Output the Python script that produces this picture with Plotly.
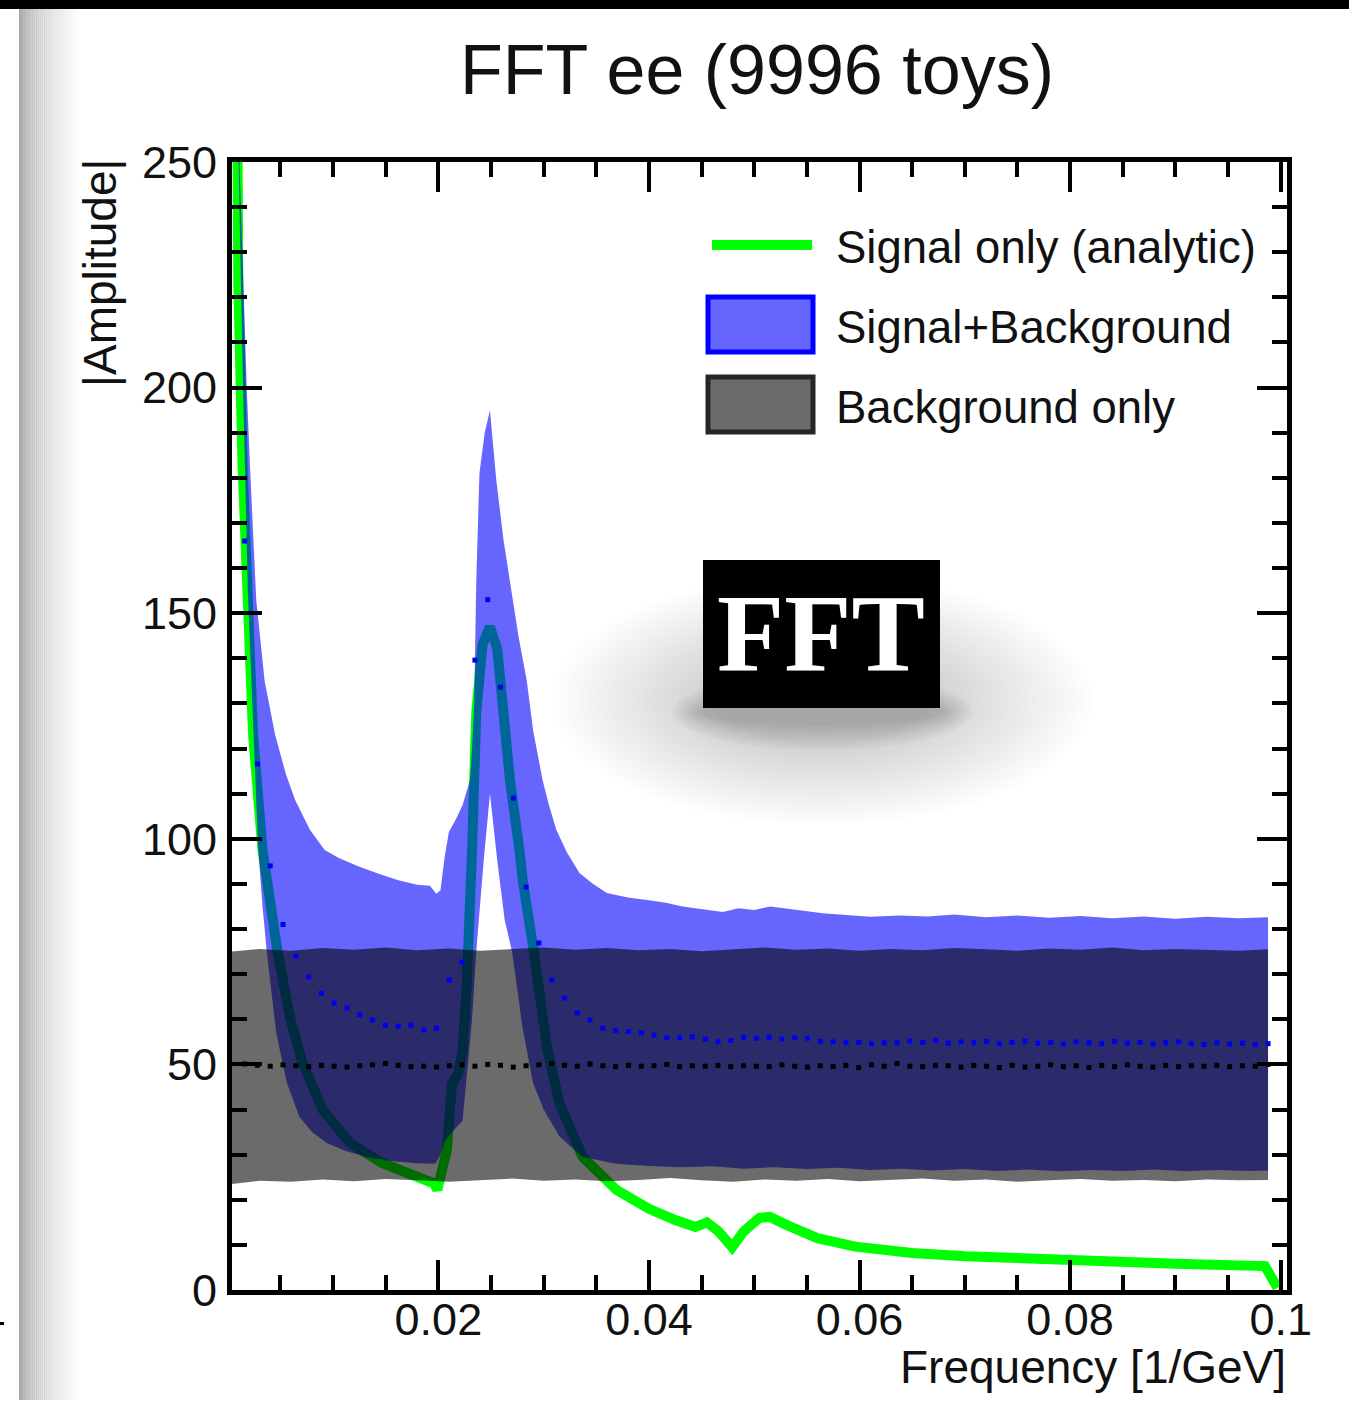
import plotly.graph_objects as go

# ---------------- data ----------------
# Signal only (analytic) curve
sig_x = [0.0009, 0.0010, 0.0014, 0.0019, 0.0024, 0.0033, 0.0047, 0.0059, 0.0071, 0.0090,
         0.0116, 0.0147, 0.0179, 0.0196, 0.0199, 0.0208, 0.0213, 0.0219, 0.0223, 0.0227,
         0.0232, 0.0236, 0.0242, 0.0249, 0.0256, 0.0261, 0.0268, 0.0277, 0.0280, 0.0290,
         0.0303, 0.0315, 0.0337, 0.0369, 0.0400, 0.0425, 0.0444, 0.0455, 0.0466, 0.0479,
         0.0490, 0.0505, 0.0515, 0.0530, 0.0560, 0.0596, 0.0650, 0.0700, 0.0800, 0.0900,
         0.0985, 0.0997]
sig_y = [262, 223, 183, 153, 123, 97.5, 75.4, 60.5, 50.3, 40.0,
         32.6, 28.1, 25.0, 23.6, 22.2, 31.0, 45.8, 48.0, 53.0, 68.0,
         97.5, 128, 143, 147, 142, 128, 113, 97.5, 91.0, 76.0,
         54.0, 41.4, 29.5, 22.2, 18.0, 15.5, 14.0, 15.0, 13.0, 9.5,
         13.0, 16.0, 16.2, 14.5, 11.5, 9.6, 8.2, 7.5, 6.5, 5.8,
         5.3, 0.5]

# Signal+Background band (upper / lower edge)
sbu_x = [0.0009, 0.0011, 0.0015, 0.0018, 0.0021, 0.0027, 0.0035, 0.0045, 0.0055, 0.0064,
         0.0078, 0.0092, 0.0106, 0.0125, 0.0144, 0.0162, 0.0180, 0.0192, 0.0198, 0.0202,
         0.0206, 0.0210, 0.0217, 0.0223, 0.0230, 0.0232, 0.0234, 0.0236, 0.0239, 0.0244,
         0.0249, 0.0252, 0.0255, 0.0262, 0.0268, 0.0276, 0.0284, 0.0290, 0.0299, 0.0305,
         0.0312, 0.0322, 0.0334, 0.0347, 0.0360, 0.0380, 0.0400, 0.0416, 0.0432, 0.0450,
         0.0470, 0.0485, 0.0500, 0.0515, 0.0527, 0.0545, 0.0565, 0.0585, 0.0610, 0.0638,
         0.0665, 0.0690, 0.0720, 0.0750, 0.0780, 0.0810, 0.0840, 0.0870, 0.0900, 0.0930,
         0.0960, 0.0988]
sbu_y = [265, 250, 222, 200, 183, 153, 135, 123, 114.5, 108.6,
         102, 97.5, 95.7, 93.8, 92.2, 90.8, 89.8, 89.6, 87.8, 88.6,
         96, 101.5, 104.5, 107.5, 113, 120, 130, 157, 181, 190,
         195, 188, 179.5, 166, 157, 145, 135, 124, 113, 107.5,
         102, 97, 92.4, 90, 88, 87, 86.4, 85.8, 85.0, 84.5,
         83.8, 84.6, 84.2, 85.0, 84.7, 84.1, 83.5, 83.2, 82.7, 83.0,
         82.8, 83.2, 82.6, 83.0, 82.5, 82.9, 82.4, 82.8, 82.3, 82.7,
         82.4, 82.6]
sbl_x = [0.0009, 0.0011, 0.0014, 0.0019, 0.0025, 0.0029, 0.0033, 0.0037, 0.0046, 0.0056,
         0.0068, 0.0080, 0.0094, 0.0112, 0.0132, 0.0155, 0.0179, 0.0197, 0.0202, 0.0206,
         0.0215, 0.0223, 0.0227, 0.0232, 0.0236, 0.0243, 0.0249, 0.0256, 0.0263, 0.0270,
         0.0280, 0.0290, 0.0300, 0.0315, 0.0337, 0.0369, 0.0400, 0.0430, 0.0460, 0.0490,
         0.0520, 0.0550, 0.0580, 0.0610, 0.0640, 0.0670, 0.0700, 0.0730, 0.0760, 0.0790,
         0.0820, 0.0850, 0.0880, 0.0910, 0.0940, 0.0970, 0.0988]
sbl_y = [265, 245, 205, 155, 120, 97.5, 85, 75, 57, 46,
         38.4, 35, 32.6, 30.8, 29.5, 28.6, 28.1, 28.0, 30.0, 33.0,
         35.5, 37.5, 46.5, 60, 75, 95, 110, 95, 82, 75,
         58, 45.8, 40, 34, 29.5, 28.0, 27.5, 27.2, 27.4, 26.9,
         27.2, 26.8, 27.1, 26.6, 26.9, 26.5, 26.8, 26.4, 26.7, 26.3,
         26.6, 26.4, 26.7, 26.3, 26.6, 26.4, 26.5]

# Background only band
bg_x = [0.0004, 0.0030, 0.0060, 0.0090, 0.0120, 0.0150, 0.0180, 0.0210, 0.0240, 0.0270,
        0.0300, 0.0330, 0.0360, 0.0390, 0.0420, 0.0450, 0.0480, 0.0510, 0.0540, 0.0570,
        0.0600, 0.0630, 0.0660, 0.0690, 0.0720, 0.0750, 0.0780, 0.0810, 0.0840, 0.0870,
        0.0900, 0.0930, 0.0960, 0.0988]
bg_hi = [75.0, 75.6, 75.2, 75.8, 75.4, 75.9, 75.3, 75.7, 75.2, 75.5,
         75.9, 75.4, 75.8, 75.3, 75.6, 75.1, 75.5, 75.9, 75.4, 75.7,
         75.2, 75.6, 75.3, 75.8, 75.5, 75.2, 75.7, 75.4, 75.9, 75.3,
         75.6, 75.4, 75.2, 75.5]
bg_lo = [23.5, 24.2, 24.0, 24.5, 24.1, 24.6, 24.3, 24.0, 24.4, 24.7,
         24.2, 24.5, 24.1, 24.4, 24.8, 24.3, 24.0, 24.5, 24.2, 24.6,
         24.1, 24.4, 24.7, 24.2, 24.5, 24.0, 24.3, 24.6, 24.2, 24.4,
         24.1, 24.5, 24.3, 24.4]

# Mean amplitude per frequency bin (dotted markers)
bin_start, bin_width = 0.0016, 0.001215
sb_mean = [166, 116.6, 94, 81, 74, 69.4, 65.8, 63.6, 62.5, 61,
           59.8, 58.7, 58.5, 58.7, 57.6, 58, 68.7, 72.7, 139.6, 153,
           133.6, 109, 89.3, 76.9, 68.7, 64.7, 61.4, 59.8, 58, 57.5,
           57.3, 57, 56.5, 55.9, 55.9, 56.1, 55.6, 55, 55.3, 56,
           55.8, 56, 55.6, 55.9, 55.8, 55.1, 55, 54.9, 54.9, 54.6,
           54.8, 54.8, 55.2, 54.9, 55.3, 54.7, 55.0, 54.8, 55.1, 54.6,
           54.9, 55.2, 54.7, 54.9, 54.5, 55.0, 54.8, 54.6, 55.1, 54.7,
           54.9, 54.5, 54.8, 55.0, 54.6, 54.4, 54.8, 54.5, 54.7, 54.4,
           54.6]
b_mean = [50.1, 49.8, 49.6, 49.9, 49.7, 49.5, 49.8, 49.6, 49.4, 49.7,
          49.9, 50.2, 49.8, 49.5, 49.6, 49.4, 49.7, 49.9, 49.6, 50.0,
          49.8, 49.4, 49.7, 49.9, 50.2, 49.8, 49.6, 50.1, 49.7, 49.5,
          49.8, 49.6, 49.7, 50.0, 49.5, 49.7, 49.6, 49.8, 49.5, 49.7,
          49.6, 49.5, 49.9, 49.6, 49.4, 49.7, 49.5, 49.8, 49.3, 49.9,
          49.6, 50.2, 49.6, 49.5, 49.8, 49.7, 49.4, 49.8, 49.6, 49.3,
          49.8, 49.4, 49.6, 49.9, 49.5, 49.7, 49.3, 49.8, 49.5, 49.9,
          49.6, 49.4, 49.8, 49.5, 49.7, 49.6, 49.8, 49.5, 49.7, 49.6,
          50.0]
sb_bins = [bin_start + bin_width * i for i in range(len(sb_mean))]
b_bins = [bin_start + bin_width * i for i in range(len(b_mean))]

title_text = "FFT ee (9996 toys)"
legend_labels = ["Signal only (analytic)", "Signal+Background", "Background only"]

# ---------------- layout geometry ----------------
W, H = 1349, 1401
ML, MR, MT, MB = 232, 62, 162, 111
PW, PH = W - ML - MR, H - MT - MB


def fx(p):
    return (p - ML) / PW


def fy(p):
    return (H - MB - p) / PH


FONT = "Liberation Sans, Arial, sans-serif"

fig = go.Figure()
fig.add_trace(go.Scatter(x=sig_x, y=sig_y, mode="lines",
                         line=dict(color="#00ff00", width=10), name=legend_labels[0]))
fig.add_trace(go.Scatter(x=sbu_x + sbl_x[::-1], y=sbu_y + sbl_y[::-1], mode="lines",
                         fill="toself", fillcolor="rgba(0,0,255,0.6)",
                         line=dict(width=0), name=legend_labels[1]))
fig.add_trace(go.Scatter(x=bg_x + bg_x[::-1], y=bg_hi + bg_lo[::-1], mode="lines",
                         fill="toself", fillcolor="rgba(0,0,0,0.58)",
                         line=dict(width=0), name=legend_labels[2]))
fig.add_trace(go.Scatter(x=sb_bins, y=sb_mean, mode="markers",
                         marker=dict(symbol="square", size=5, color="#0000f0"),
                         name="S+B mean"))
fig.add_trace(go.Scatter(x=b_bins, y=b_mean, mode="markers",
                         marker=dict(symbol="square", size=5, color="#000000"),
                         name="B mean"))

shapes = []
# top black strip
shapes.append(dict(type="rect", xref="paper", yref="paper", x0=fx(0), x1=fx(W),
                   y0=fy(0), y1=fy(9), fillcolor="black", line=dict(width=0), layer="below"))
# left gradient strip
n = 30
for i in range(n):
    a = 19 + i * 61 / n
    b = 19 + (i + 1) * 61 / n
    t = (i + 0.5) / n
    g = int(160 + 95 * t ** 0.6)
    shapes.append(dict(type="rect", xref="paper", yref="paper", x0=fx(a), x1=fx(b),
                       y0=fy(1400), y1=fy(9), fillcolor=f"rgb({g},{g},{g})",
                       line=dict(width=0), layer="below"))
shapes.append(dict(type="rect", xref="paper", yref="paper", x0=fx(0), x1=fx(4),
                   y0=fy(1325), y1=fy(1322), fillcolor="black", line=dict(width=0)))

# FFT logo shadow (soft, diffuse)
for k in range(24):
    rx = 270 - k * 7
    ry = 125 - k * 3.6
    cx, cy = 822, 700
    shapes.append(dict(type="circle", xref="paper", yref="paper",
                       x0=fx(cx - rx), x1=fx(cx + rx), y0=fy(cy + ry), y1=fy(cy - ry),
                       fillcolor="rgba(0,0,0,0.008)", line=dict(width=0), layer="above"))
for k in range(8):
    rx = 150 - k * 4
    ry = 38 - k * 3.5
    cx, cy = 822, 712
    shapes.append(dict(type="circle", xref="paper", yref="paper",
                       x0=fx(cx - rx), x1=fx(cx + rx), y0=fy(cy + ry), y1=fy(cy - ry),
                       fillcolor="rgba(0,0,0,0.025)", line=dict(width=0), layer="above"))
# FFT logo box
shapes.append(dict(type="rect", xref="paper", yref="paper", x0=fx(703), x1=fx(940),
                   y0=fy(708), y1=fy(560), fillcolor="black", line=dict(width=0), layer="above"))

# legend symbols
shapes.append(dict(type="line", xref="paper", yref="paper", x0=fx(712), x1=fx(812),
                   y0=fy(245), y1=fy(245), line=dict(color="#00ff00", width=10), layer="above"))
shapes.append(dict(type="rect", xref="paper", yref="paper", x0=fx(708), x1=fx(813),
                   y0=fy(352), y1=fy(297), fillcolor="rgba(0,0,255,0.6)",
                   line=dict(color="#0000ff", width=5), layer="above"))
shapes.append(dict(type="rect", xref="paper", yref="paper", x0=fx(708), x1=fx(813),
                   y0=fy(432), y1=fy(377), fillcolor="rgb(107,107,107)",
                   line=dict(color="#262626", width=5), layer="above"))

annotations = [
    dict(text=title_text, xref="paper", yref="paper", x=fx(757), y=fy(70),
         xanchor="center", yanchor="middle", showarrow=False,
         font=dict(family=FONT, size=70, color="#111")),
    dict(text="<b>FFT</b>", xref="paper", yref="paper", x=fx(821), y=fy(634),
         xanchor="center", yanchor="middle", showarrow=False,
         font=dict(family="Liberation Serif, Times New Roman, serif", size=110, color="white")),
    dict(text="Frequency [1/GeV]", xref="paper", yref="paper", x=fx(1288), y=fy(1367),
         xanchor="right", yanchor="middle", showarrow=False,
         font=dict(family=FONT, size=46, color="#111")),
    dict(text="|Amplitude|", xref="paper", yref="paper", x=fx(100), y=fy(157),
         xanchor="center", yanchor="top", textangle=-90, showarrow=False,
         font=dict(family=FONT, size=46, color="#111")),
]
for lab, yc in zip(legend_labels, [247, 327, 407]):
    annotations.append(dict(text=lab, xref="paper", yref="paper", x=fx(834), y=fy(yc),
                            xanchor="left", yanchor="middle", showarrow=False,
                            font=dict(family=FONT, size=45.5, color="#111")))

axis_common = dict(showgrid=False, zeroline=False, showline=True, linewidth=5,
                   linecolor="black", mirror="allticks", ticks="inside", ticklen=30,
                   tickwidth=4, tickcolor="black",
                   tickfont=dict(family=FONT, size=45, color="#111"))

fig.update_layout(
    width=W, height=H,
    margin=dict(l=ML, r=MR, t=MT, b=MB, pad=0),
    paper_bgcolor="white", plot_bgcolor="white",
    showlegend=False,
    shapes=shapes, annotations=annotations,
    xaxis=dict(range=[0.0004, 0.1006], tickmode="linear", tick0=0, dtick=0.02,
               minor=dict(ticks="inside", ticklen=15, tickwidth=4, tickcolor="black",
                          tick0=0, dtick=0.005, showgrid=False),
               ticklabelstandoff=-14, **axis_common),
    yaxis=dict(range=[0, 250], tickmode="linear", tick0=0, dtick=50,
               minor=dict(ticks="inside", ticklen=15, tickwidth=4, tickcolor="black",
                          tick0=0, dtick=10, showgrid=False),
               ticklabelstandoff=1, **axis_common),
)

fig.write_html("out.html", config={"displayModeBar": False})
